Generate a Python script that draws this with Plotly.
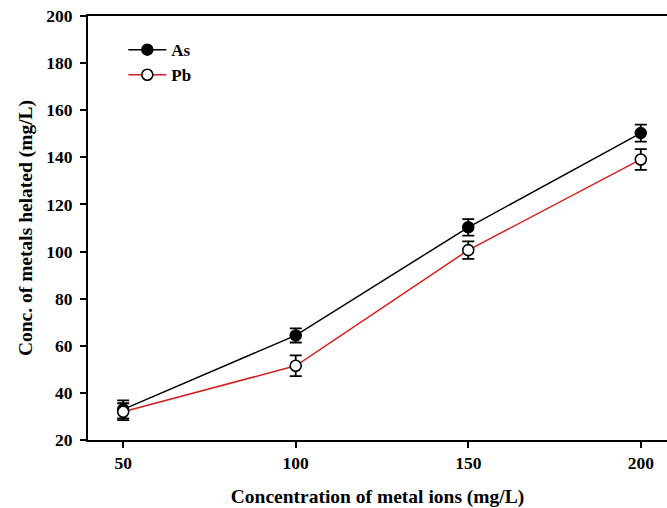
import plotly.graph_objects as go

concentration = [50, 100, 150, 200]
as_values = [33.0, 64.4, 110.3, 150.3]
as_errors = [3.8, 3.0, 3.5, 3.6]
pb_values = [32.0, 51.5, 100.6, 139.1]
pb_errors = [3.6, 4.4, 3.7, 4.4]
x_ticks = [50, 100, 150, 200]
y_ticks = [20, 40, 60, 80, 100, 120, 140, 160, 180, 200]

FONT = "Liberation Serif"

fig = go.Figure()
fig.add_trace(go.Scatter(
    x=concentration, y=as_values, name="<b>As</b>", mode="lines+markers",
    line=dict(color="black", width=1.5),
    marker=dict(symbol="circle", size=11, color="black", line=dict(color="black", width=1.5)),
    error_y=dict(type="data", array=as_errors, visible=True, color="black", thickness=1.8, width=6),
))
fig.add_trace(go.Scatter(
    x=concentration, y=pb_values, name="<b>Pb</b>", mode="lines+markers",
    line=dict(color="#d41f1f", width=1.5),
    marker=dict(symbol="circle", size=11, color="white", line=dict(color="black", width=1.6)),
    error_y=dict(type="data", array=pb_errors, visible=True, color="black", thickness=1.8, width=6),
))

fig.update_layout(
    width=667, height=508,
    margin=dict(l=88, r=0, t=16, b=68),
    paper_bgcolor="white", plot_bgcolor="white",
    font=dict(family=FONT, color="black", size=17),
    showlegend=True,
    legend=dict(x=0.061, y=0.962, xanchor="left", yanchor="top",
                bgcolor="rgba(0,0,0,0)", font=dict(family=FONT, size=17, color="black"),
                tracegroupgap=0, itemwidth=38),
)
fig.update_xaxes(
    range=[39.8, 207.6], tickvals=x_ticks, ticktext=[f"<b>{v}</b>" for v in x_ticks],
    showgrid=False, zeroline=False, showline=True, linecolor="black", linewidth=2.2,
    mirror=True, ticks="outside", ticklen=6, tickwidth=1.5, tickcolor="black",
    tickfont=dict(family=FONT, size=17.5, color="black"), ticklabelstandoff=0,
    ticklabeloverflow="allow",
    title=dict(text="<b>Concentration of metal ions (mg/L)</b>", font=dict(family=FONT, size=19.5, color="black"), standoff=17),
)
fig.update_yaxes(
    range=[20, 200], tickvals=y_ticks, ticktext=[f"<b>{v}</b>" for v in y_ticks],
    showgrid=False, zeroline=False, showline=True, linecolor="black", linewidth=2.2,
    mirror=False, ticks="outside", ticklen=6, tickwidth=1.5, tickcolor="black",
    tickfont=dict(family=FONT, size=17.5, color="black"), ticklabelstandoff=4,
    ticklabeloverflow="allow",
    title=dict(text="<b>Conc. of metals helated (mg/L)</b>", font=dict(family=FONT, size=19.5, color="black"), standoff=8),
)

fig.write_html("out.html", config={"displayModeBar": False},
               post_script="document.body.style.margin='0';")
